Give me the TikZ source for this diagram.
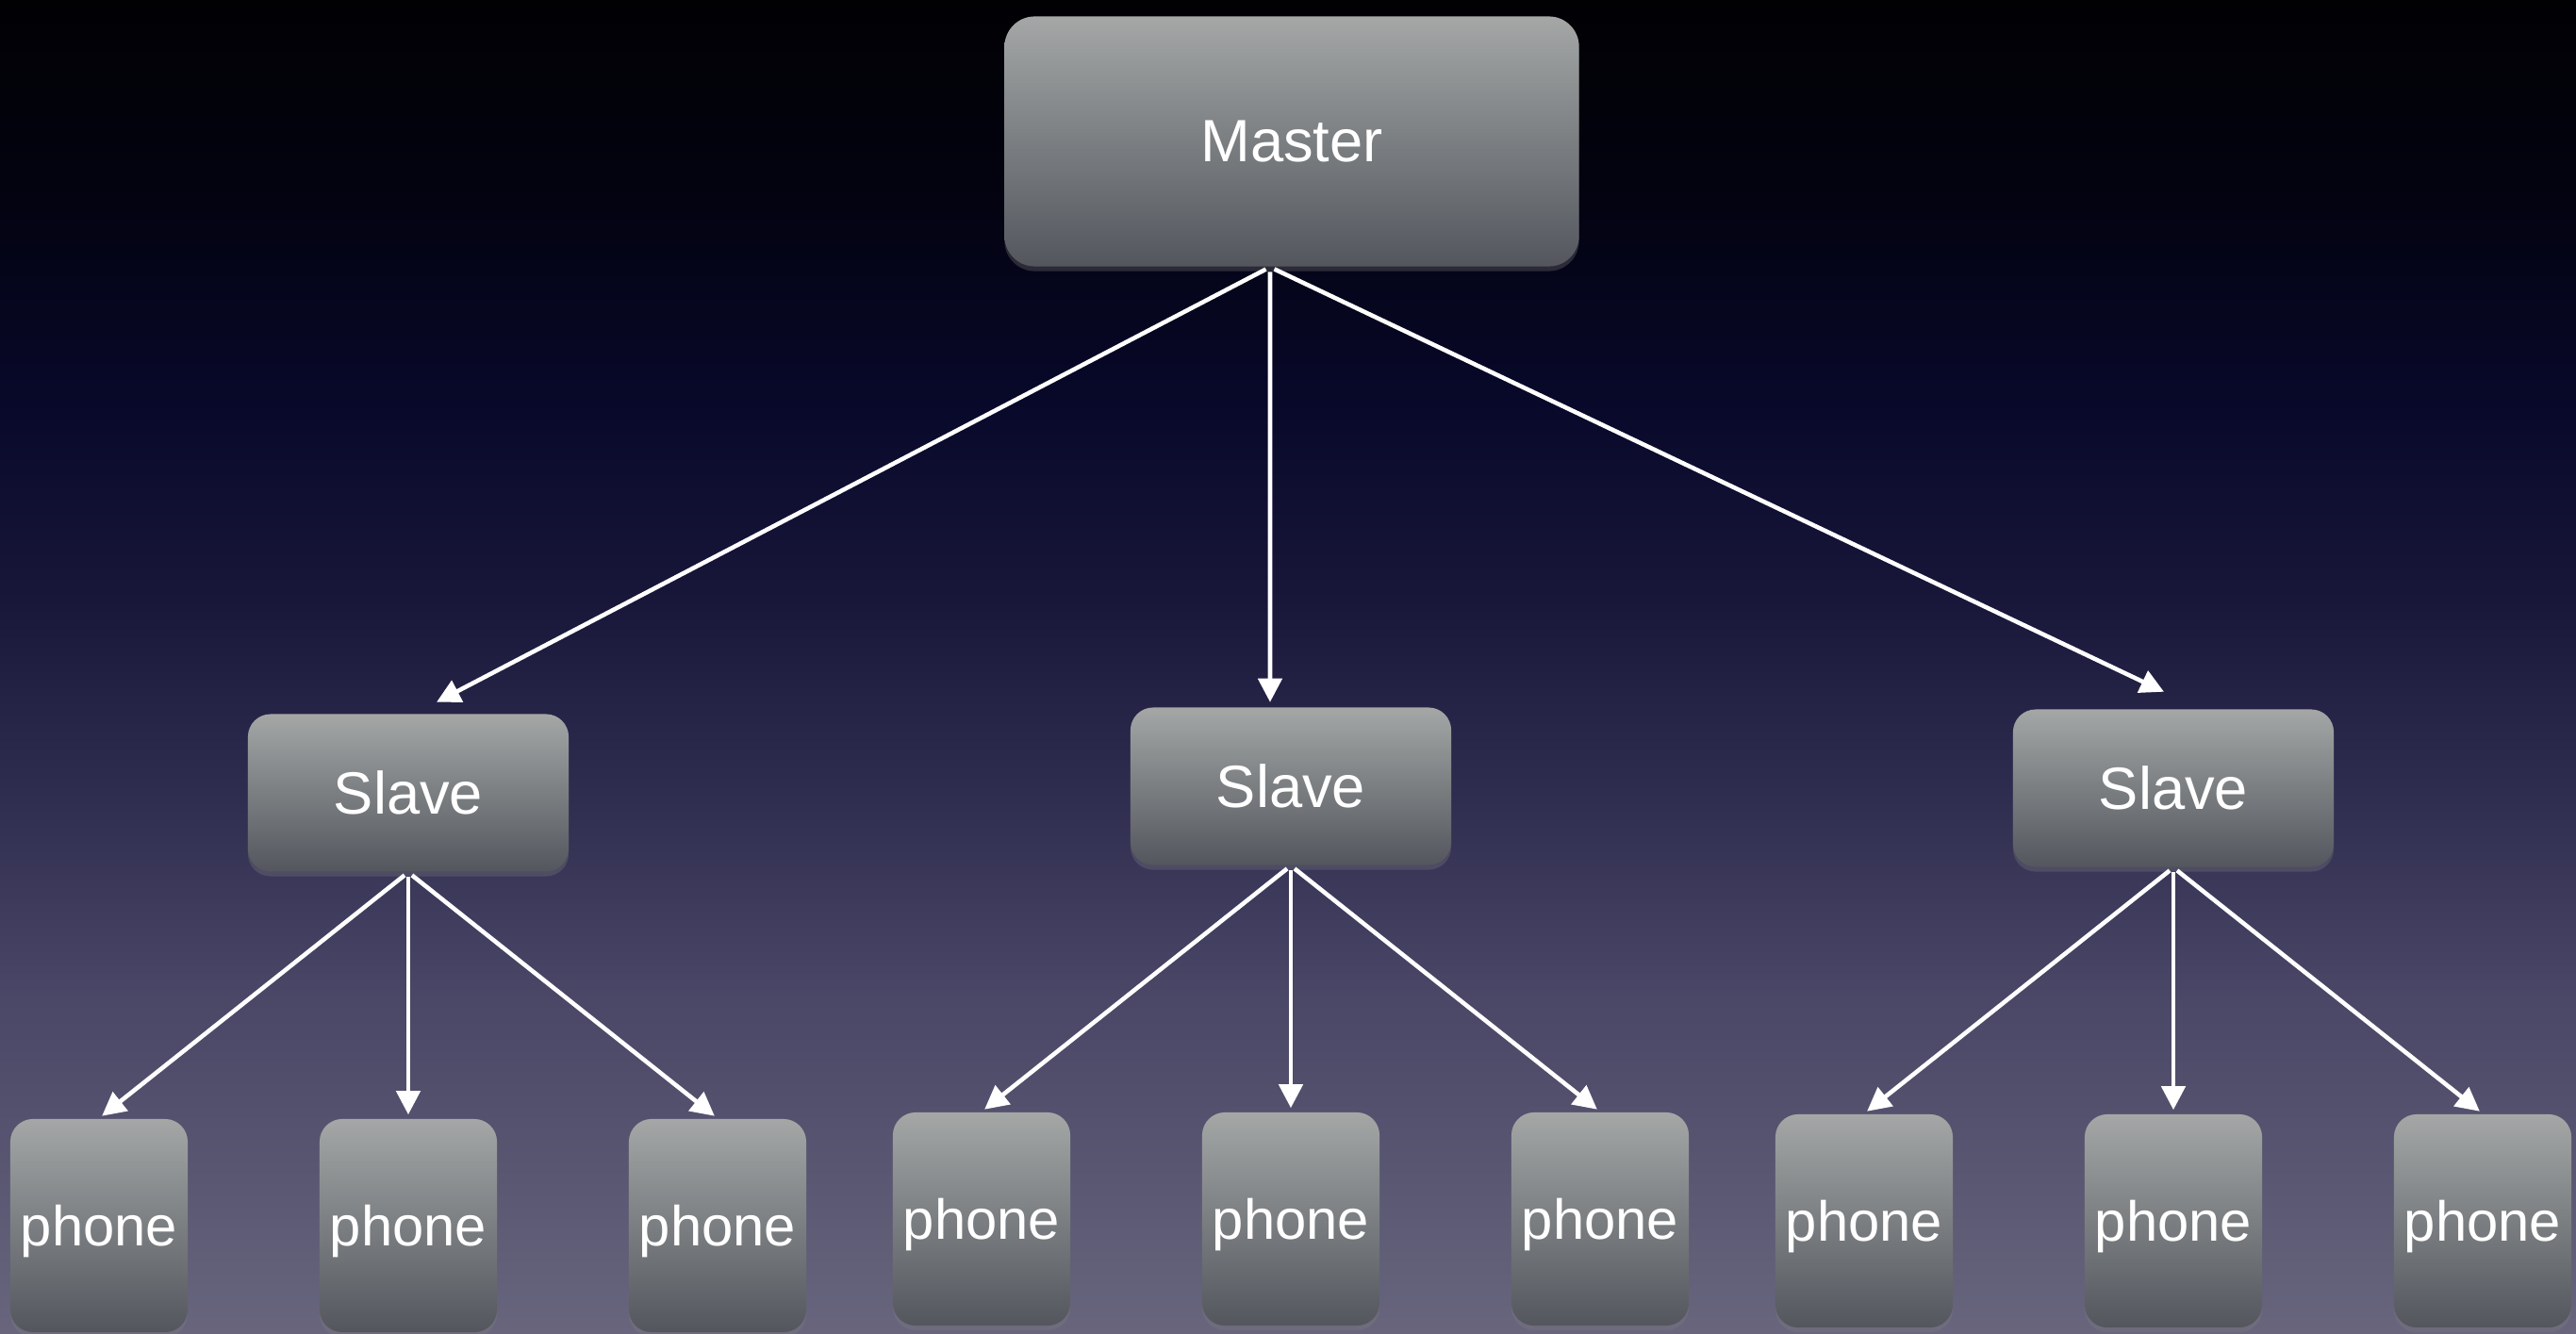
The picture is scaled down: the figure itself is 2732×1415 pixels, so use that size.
\documentclass[tikz,border=0pt]{standalone}
\usepackage{fontspec}
\setmainfont{Liberation Sans}
\usetikzlibrary{arrows.meta}
\usetikzlibrary{shadows}
\usetikzlibrary{positioning}

\definecolor{skyA}{HTML}{010104}
\definecolor{skyB}{HTML}{030311}
\definecolor{skyC}{HTML}{08082A}
\definecolor{skyD}{HTML}{18173A}
\definecolor{skyE}{HTML}{302E50}
\definecolor{skyF}{HTML}{4A4767}
\definecolor{skyG}{HTML}{68657D}
\definecolor{boxtop}{HTML}{A4A7A6}
\definecolor{boxbot}{HTML}{53565D}

% 25bp = bottom of the picture, 75bp = top
\pgfdeclareverticalshading{sky}{100bp}{color(0bp)=(skyG); color(25bp)=(skyG); color(37.5bp)=(skyF);
    color(45bp)=(skyE); color(52.5bp)=(skyD); color(60bp)=(skyC); color(67.5bp)=(skyB);
    color(75bp)=(skyA); color(100bp)=(skyA)}

\begin{document}
\begin{tikzpicture}[x=0.01cm, y=-0.01cm,
    box/.style={rounded corners=0.24cm, top color=boxtop, bottom color=boxbot,
        text=white, inner sep=0pt, text depth=0pt,
        drop shadow={opacity=0.3, shadow xshift=0pt, shadow yshift=-0.05cm}},
    slavebox/.style={box, minimum width=3.4cm, minimum height=1.67cm, font=\fontsize{18}{20}\selectfont},
    phonebox/.style={box, minimum width=1.88cm, minimum height=2.26cm, font=\fontsize{17}{20}\selectfont},
    link/.style={draw=white, line width=1.3pt, -{Triangle[length=0.25cm, width=0.25cm]}}]

    % Background
    \shade[shading=sky] (0,0) rectangle (2732,1415);
    \useasboundingbox (0,0) rectangle (2732,1415);

    % Master
    \node[box, minimum width=6.09cm, minimum height=2.65cm, rounded corners=0.32cm,
        font=\fontsize{18}{20}\selectfont] (master) at (1370,150) {Master};

    % Slaves and their phones
    \foreach \s/\x/\y in {1/433/841, 2/1369/834, 3/2305/836} {
        \node[slavebox] (slave\s) at (\x,\y) {Slave};
        \foreach \p/\dx in {1/-328, 2/0, 3/328} {
            \node[phonebox] (phone\s\p) at (\x+\dx,\y+459) {phone};
            \draw[link, shorten <=0.05cm, shorten >=0.04cm] (slave\s.south) -- (phone\s\p.north);
        }
    }

    % Master to slaves
    \foreach \s/\dx/\gap in {1/0.30/0.12, 2/-0.22/0.05, 3/-0.10/0.18} {
        \draw[link, shorten <=0.05cm] ([xshift=-0.23cm]master.south) -- ([xshift=\dx cm, yshift=\gap cm]slave\s.north);
    }

\end{tikzpicture}
\end{document}
